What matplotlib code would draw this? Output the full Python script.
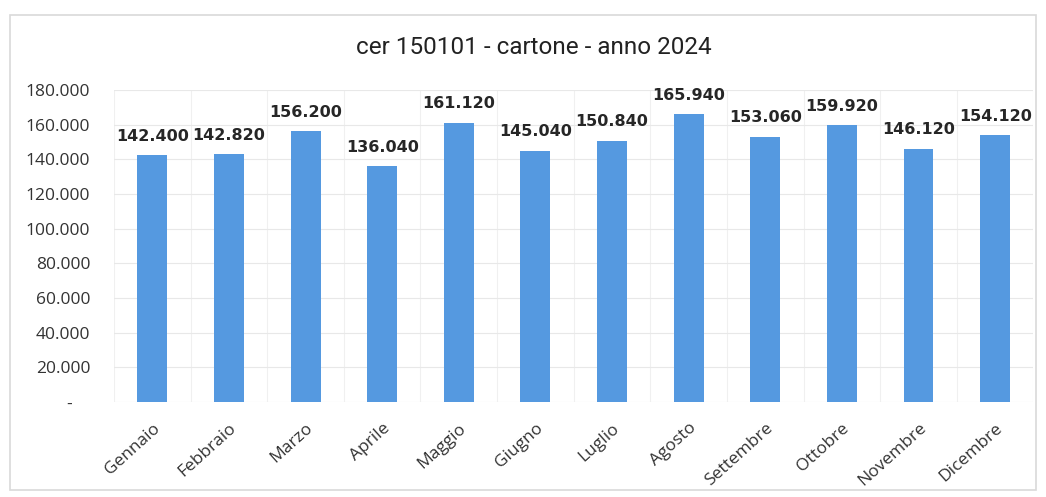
import numpy as np
import matplotlib.pyplot as plt
from matplotlib.patches import Rectangle
from matplotlib.ticker import FuncFormatter

mesi = ["Gennaio", "Febbraio", "Marzo", "Aprile", "Maggio", "Giugno",
        "Luglio", "Agosto", "Settembre", "Ottobre", "Novembre", "Dicembre"]
valori = [142400, 142820, 156200, 136040, 161120, 145040,
          150840, 165940, 153060, 159920, 146120, 154120]
etichette = ["142.400", "142.820", "156.200", "136.040", "161.120", "145.040",
             "150.840", "165.940", "153.060", "159.920", "146.120", "154.120"]

plt.rcParams['font.family'] = ['Open Sans', 'DejaVu Sans']

fig = plt.figure(figsize=(10.46, 4.97), dpi=100)
ax = fig.add_axes([0.109, 0.191, 0.879, 0.628])

# cornice grigia del grafico
fig.patches.append(Rectangle((0.01, 0.015), 0.98, 0.955, transform=fig.transFigure,
                             fill=False, edgecolor='#d9d9d9', linewidth=1.2))

x = np.arange(len(mesi))
ax.bar(x, valori, width=0.39, color='#5599e0', zorder=3)
for xi, v, t in zip(x, valori, etichette):
    ax.text(xi, v + 6500, t, ha='center', va='bottom', fontsize=11.5,
            fontweight='bold', color='#262626', family='DejaVu Sans')

ax.set_xlim(-0.5, len(mesi) - 0.5)
ax.set_ylim(0, 180000)
ax.set_yticks(np.arange(0, 180001, 20000))
ax.yaxis.set_major_formatter(FuncFormatter(
    lambda v, p: "-    " if v == 0 else "{:,.0f}".format(v).replace(",", ".")))
ax.set_xticks(x)
ax.set_xticklabels(mesi, rotation=42, ha='right', rotation_mode='anchor')
ax.tick_params(axis='both', which='both', length=0, labelsize=12.5, colors='#333333')
ax.tick_params(axis='x', pad=13)
ax.tick_params(axis='y', pad=17)

ax.set_xticks(np.arange(-0.5, len(mesi), 0.5), minor=True)
ax.grid(axis='y', color='#e8e8e8', linewidth=0.8, zorder=0)
ax.grid(axis='x', which='minor', color='#f0f0f0', linewidth=0.8, zorder=0)
for s in ax.spines.values():
    s.set_visible(False)

fig.text(0.51, 0.905, "cer 150101 - cartone - anno 2024", ha='center', va='center',
         fontsize=17.5, color='#222222', family=['Liberation Sans Narrow', 'Roboto', 'DejaVu Sans'],
         fontstretch='condensed')

plt.savefig("out.png", dpi=100)
